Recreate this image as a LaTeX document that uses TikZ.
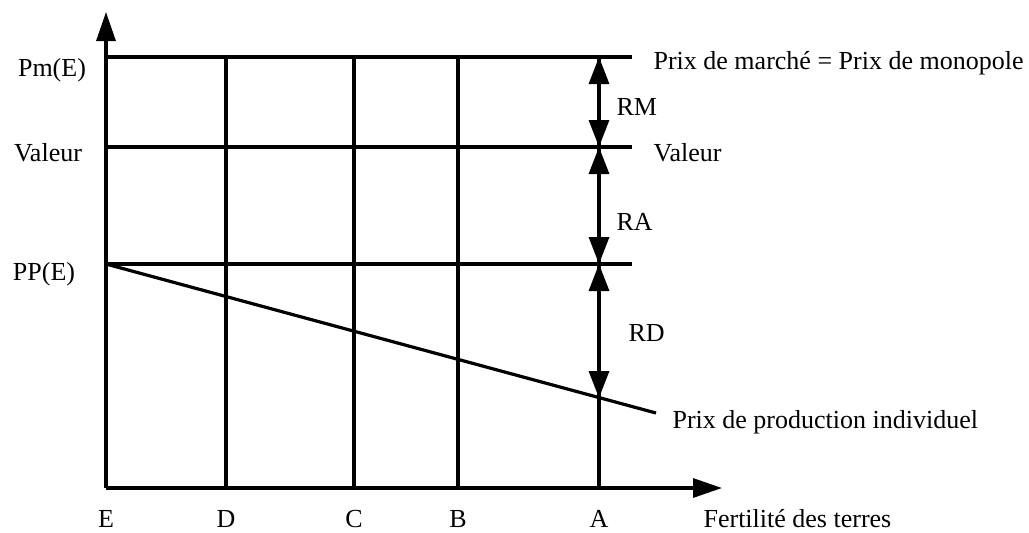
\documentclass[tikz,border=0pt]{standalone}
\usepackage{fontspec}
\setmainfont{Liberation Serif}
\usetikzlibrary{arrows.meta}

\begin{document}
\begin{tikzpicture}[x=0.5pt, y=-0.5pt, line width=1.6pt,
    every node/.style={inner sep=0pt, font=\fontsize{13}{15}\selectfont},
    axe/.style={-{Triangle[length=14.5pt,width=9.5pt]}},
    rente/.style={{Triangle[length=13.5pt,width=10pt]}-{Triangle[length=13.5pt,width=10pt]}}]
    \useasboundingbox (0,0) rectangle (1029,532);
    \coordinate (O) at (106,488);
    \coordinate (yfin) at (106,12);
    \coordinate (xfin) at (722,488);
    \draw[axe] (O) -- (yfin);
    \draw[axe] (O) -- (xfin);
    \coordinate (pm) at (106,57);
    \coordinate (pmd) at (632,57);
    \coordinate (val) at (106,147);
    \coordinate (vald) at (632,147);
    \coordinate (pp) at (106,264);
    \coordinate (ppd) at (632,264);
    \draw (pm) -- (pmd);
    \draw (val) -- (vald);
    \draw (pp) -- (ppd);
    \foreach \nom/\x in {D/226, C/354, B/458, A/599} {
        \coordinate (h\nom) at (\x,57);
        \coordinate (b\nom) at (\x,488);
        \draw (h\nom) -- (b\nom);
        \node (l\nom) at (\x,519) {\nom};
    }
    \node (lE) at (106,519) {E};
    \node[anchor=west] (fert) at (702,519) {Fertilité des terres};
    \coordinate (prodfin) at (656,413);
    \draw (pp) -- (prodfin);
    \coordinate (rA1) at (599,57);
    \coordinate (rA2) at (599,147);
    \coordinate (rA3) at (599,264);
    \coordinate (rA4) at (599,398);
    \draw[rente] (rA1) -- (rA2);
    \draw[rente] (rA2) -- (rA3);
    \draw[rente] (rA3) -- (rA4);
    \node[anchor=west] (RM) at (615,107) {RM};
    \node[anchor=west] (RA) at (615,222) {RA};
    \node[anchor=west] (RD) at (627,333) {RD};
    \node (pmE) at (52,70) {Pm(E)};
    \node (valg) at (48,153) {Valeur};
    \node (ppE) at (44,274) {PP(E)};
    \node[anchor=west] (marche) at (652,63) {Prix de marché = Prix de monopole};
    \node[anchor=west] (valdr) at (652,153) {Valeur};
    \node[anchor=west] (prod) at (671,422) {Prix de production individuel};
\end{tikzpicture}
\end{document}
